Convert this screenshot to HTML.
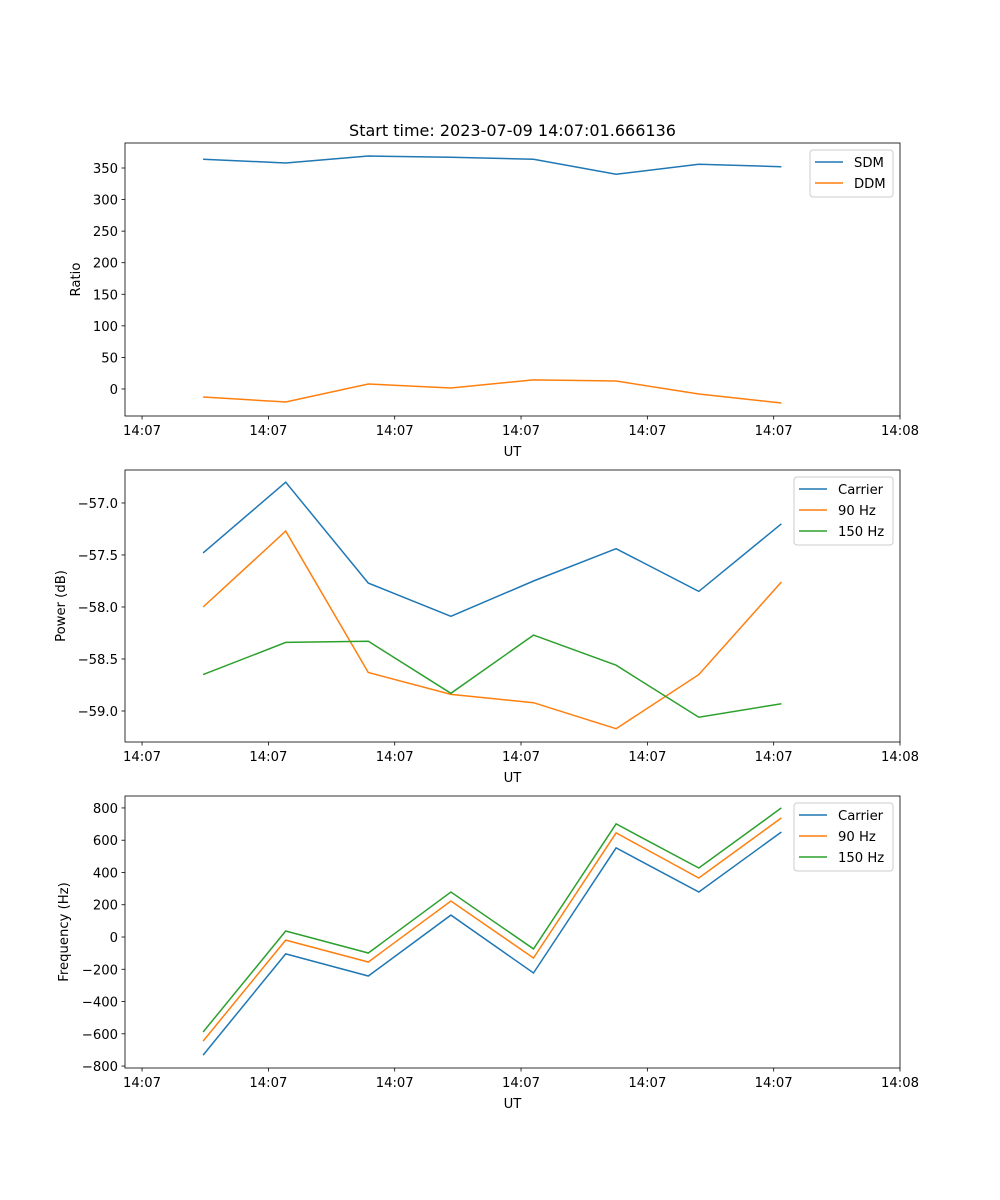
<!DOCTYPE html>
<html><head><meta charset="utf-8"><style>
html,body{margin:0;padding:0;background:#fff;}
svg{display:block;font-family:"DejaVu Sans","Liberation Sans",sans-serif;}
</style></head><body>
<svg id="fig" width="1000" height="1200"></svg>
<script>
const times = [4.83, 11.37, 17.91, 24.45, 30.99, 37.53, 44.07, 50.61];
const xTicks = [0, 10, 20, 30, 40, 50, 60];
const xTickLabels = ["14:07","14:07","14:07","14:07","14:07","14:07","14:08"];
const sdm = [364, 358, 369, 367, 364, 340, 356, 352];
const ddm = [-12.7, -20.6, 7.9, 1.6, 14.3, 12.7, -7.9, -22.2];
const pCarrier = [-57.48, -56.80, -57.77, -58.09, -57.75, -57.44, -57.85, -57.20];
const p90 = [-58.0, -57.27, -58.63, -58.84, -58.92, -59.17, -58.65, -57.76];
const p150 = [-58.65, -58.34, -58.33, -58.83, -58.27, -58.56, -59.06, -58.93];
const fCarrier = [-732, -105, -242, 136, -223, 552, 279, 651];
const f90 = [-645, -19, -155, 223, -130, 645, 366, 738];
const f150 = [-589, 37, -99, 279, -74, 701, 428, 800];
const ticks1 = [0, 50, 100, 150, 200, 250, 300, 350];
const ticks2 = [-59.0, -58.5, -58.0, -57.5, -57.0];
const ticks3 = [-800, -600, -400, -200, 0, 200, 400, 600, 800];

const NS = "http://www.w3.org/2000/svg";
const svg = document.getElementById("fig");
function mk(tag, attrs, parent, text) {
  const e = document.createElementNS(NS, tag);
  for (const k in attrs) e.setAttribute(k, attrs[k]);
  if (text !== undefined) e.textContent = text;
  (parent || svg).appendChild(e);
  return e;
}
const C = ["#1f77b4", "#ff7f0e", "#2ca02c"];
const FS = 13.2;
const X0 = 125, X1 = 900, XMIN = -1.35, XMAX = 60;
const xs = t => X0 + (t - XMIN) / (XMAX - XMIN) * (X1 - X0);

function panel(name, top, bot, ymin, ymax, yticks, fmt, ylabel, lx, series, labels, legW, legX) {
  const g = mk("g", {}, svg);
  
  
  const ys = v => bot - (v - ymin) / (ymax - ymin) * (bot - top);
  series.forEach((s, i) => {
    const pts = s.map((v, j) => xs(times[j]).toFixed(1) + "," + ys(v).toFixed(1)).join(" ");
    const pl = mk("polyline", {points: pts, fill: "none", stroke: C[i], "stroke-width": 1.5}, g);
    
    
  });
  const fr = mk("rect", {x: X0, y: top, width: X1 - X0, height: bot - top, fill: "none", stroke: "#000", "stroke-width": 0.8}, g);
  
  
  xTicks.forEach((t, i) => {
    const x = xs(t);
    mk("line", {x1: x, x2: x, y1: bot, y2: bot + 3.5, stroke: "#000", "stroke-width": 0.8}, g);
    const tl = mk("text", {x: x, y: bot + 19, "text-anchor": "middle", "font-size": FS}, g, xTickLabels[i]);
    
    
  });
  const xl = mk("text", {x: (X0 + X1) / 2, y: bot + 40, "text-anchor": "middle", "font-size": FS}, g, "UT");
  
  
  yticks.forEach(v => {
    const y = ys(v);
    mk("line", {x1: X0 - 3.5, x2: X0, y1: y, y2: y, stroke: "#000", "stroke-width": 0.8}, g);
    const tl = mk("text", {x: X0 - 7, y: y + 5, "text-anchor": "end", "font-size": FS}, g, fmt(v));
    
    
  });
  const yc = (top + bot) / 2;
  const yl = mk("text", {x: lx, y: yc, "text-anchor": "middle", "font-size": FS, transform: `rotate(-90 ${lx} ${yc})`}, g, ylabel);
  
  
  const lg = mk("g", {}, g);
  
  
  const lh = 5 + labels.length * 21;
  mk("rect", {x: legX, y: top + 7, width: legW, height: lh, rx: 3, fill: "#fff", "fill-opacity": 0.8, stroke: "#ccc", "stroke-width": 1}, lg);
  labels.forEach((l, i) => {
    const y = top + 19 + i * 21;
    mk("line", {x1: legX + 5, x2: legX + 33, y1: y, y2: y, stroke: C[i], "stroke-width": 1.5}, lg);
    const t = mk("text", {x: legX + 44, y: y + 5, "font-size": FS}, lg, l);
    
    
  });
}
const minus = s => s.replace("-", "\u2212");
panel("ratio-panel", 143, 416, -42.8, 389.6, ticks1, v => minus(String(v)), "Ratio", 80, [sdm, ddm], ["SDM", "DDM"], 83, 810);
panel("power-panel", 470, 742, -59.298, -56.683, ticks2, v => minus(v.toFixed(1)), "Power (dB)", 65, [pCarrier, p90, p150], ["Carrier", "90 Hz", "150 Hz"], 99, 794);
panel("frequency-panel", 796, 1068, -812, 874, ticks3, v => minus(String(v)), "Frequency (Hz)", 68, [fCarrier, f90, f150], ["Carrier", "90 Hz", "150 Hz"], 99, 794);
const title = mk("text", {x: 512.5, y: 136, "text-anchor": "middle", "font-size": 16}, svg, "Start time: 2023-07-09 14:07:01.666136");


</script>
</body></html>
